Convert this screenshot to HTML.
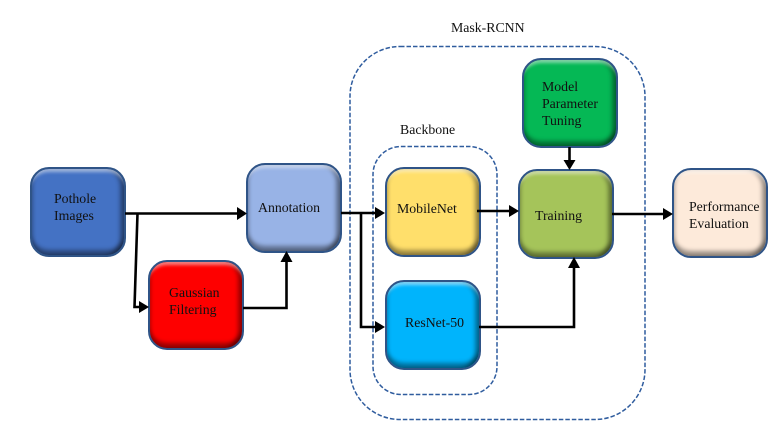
<!DOCTYPE html>
<html>
<head>
<meta charset="utf-8">
<style>
html,body{margin:0;padding:0;background:#fff;}
#c{position:relative;width:774px;height:441px;overflow:hidden;background:#fff;font-family:"Liberation Serif",serif;font-size:13.8px;color:#111;filter:blur(.3px);}
.b{position:absolute;width:92px;height:86px;border:2px solid #2f5487;border-radius:19px;
box-shadow:inset 0 6px 3px -3px rgba(255,255,255,.5),inset 0 -6px 4px -1px rgba(0,0,0,.38),inset -5px 0 4px -1px rgba(0,0,0,.38),inset 3px 0 3px -1px rgba(0,0,0,.12);}
.t{position:absolute;line-height:17px;white-space:nowrap;}
svg{position:absolute;left:0;top:0;}
</style>
</head>
<body>
<div id="c">
<svg width="774" height="441" viewBox="0 0 774 441">
<rect x="350" y="46.500" width="295" height="373" rx="50" fill="none" stroke="#2f5c9e" stroke-width="1.500" stroke-dasharray="4.500 2"/>
<rect x="373" y="146.500" width="124" height="248" rx="28" fill="none" stroke="#2f5c9e" stroke-width="1.500" stroke-dasharray="4.500 2"/>
</svg>
<div class="b" style="left:30px;top:167px;background:#4472c4;"></div>
<div class="b" style="left:246px;top:163px;background:#98b3e6;"></div>
<div class="b" style="left:148px;top:260px;background:#fe0000;"></div>
<div class="b" style="left:385px;top:167px;background:#ffdf6b;"></div>
<div class="b" style="left:385px;top:280px;background:#00b4fc;"></div>
<div class="b" style="left:518px;top:169px;background:#a5c45a;"></div>
<div class="b" style="left:522px;top:58px;background:#05b855;"></div>
<div class="b" style="left:672px;top:168px;background:#fdeada;"></div>
<svg width="774" height="441" viewBox="0 0 774 441">
<g fill="none" stroke="#000" stroke-width="2.600">
<path d="M125 213.500H238"/>
<path d="M137.500 213.500L134.500 307H141"/>
<path d="M243 308H286.500V260"/>
<path d="M341 213H377"/>
<path d="M361 213V327H377"/>
<path d="M477 211H511"/>
<path d="M479 327H574V265"/>
<path d="M569.500 147V162"/>
<path d="M612 214H664"/>
</g>
<g fill="#000">
<polygon points="247,213.500 237,207 237,220"/>
<polygon points="149,307 139,301 139,313"/>
<polygon points="286.500,251 280.500,262 292.500,262"/>
<polygon points="385,213 375,207 375,219"/>
<polygon points="385,327 375,321 375,333"/>
<polygon points="519,211 509,205 509,217"/>
<polygon points="574,257 568,268 580,268"/>
<polygon points="569.500,170 563.500,160 575.500,160"/>
<polygon points="673,214 663,208 663,220"/>
</g>
</svg>
<div class="t" style="left:54px;top:190px;">Pothole<br>Images</div>
<div class="t" style="left:258px;top:199px;">Annotation</div>
<div class="t" style="left:169px;top:284px;">Gaussian<br>Filtering</div>
<div class="t" style="left:397px;top:200px;">MobileNet</div>
<div class="t" style="left:405px;top:314px;">ResNet-50</div>
<div class="t" style="left:535px;top:207px;">Training</div>
<div class="t" style="left:542px;top:78px;">Model<br>Parameter<br>Tuning</div>
<div class="t" style="left:689px;top:198px;">Performance<br>Evaluation</div>
<div class="t" style="left:400px;top:121px;">Backbone</div>
<div class="t" style="left:451px;top:19px;">Mask-RCNN</div>
</div>
</body>
</html>
